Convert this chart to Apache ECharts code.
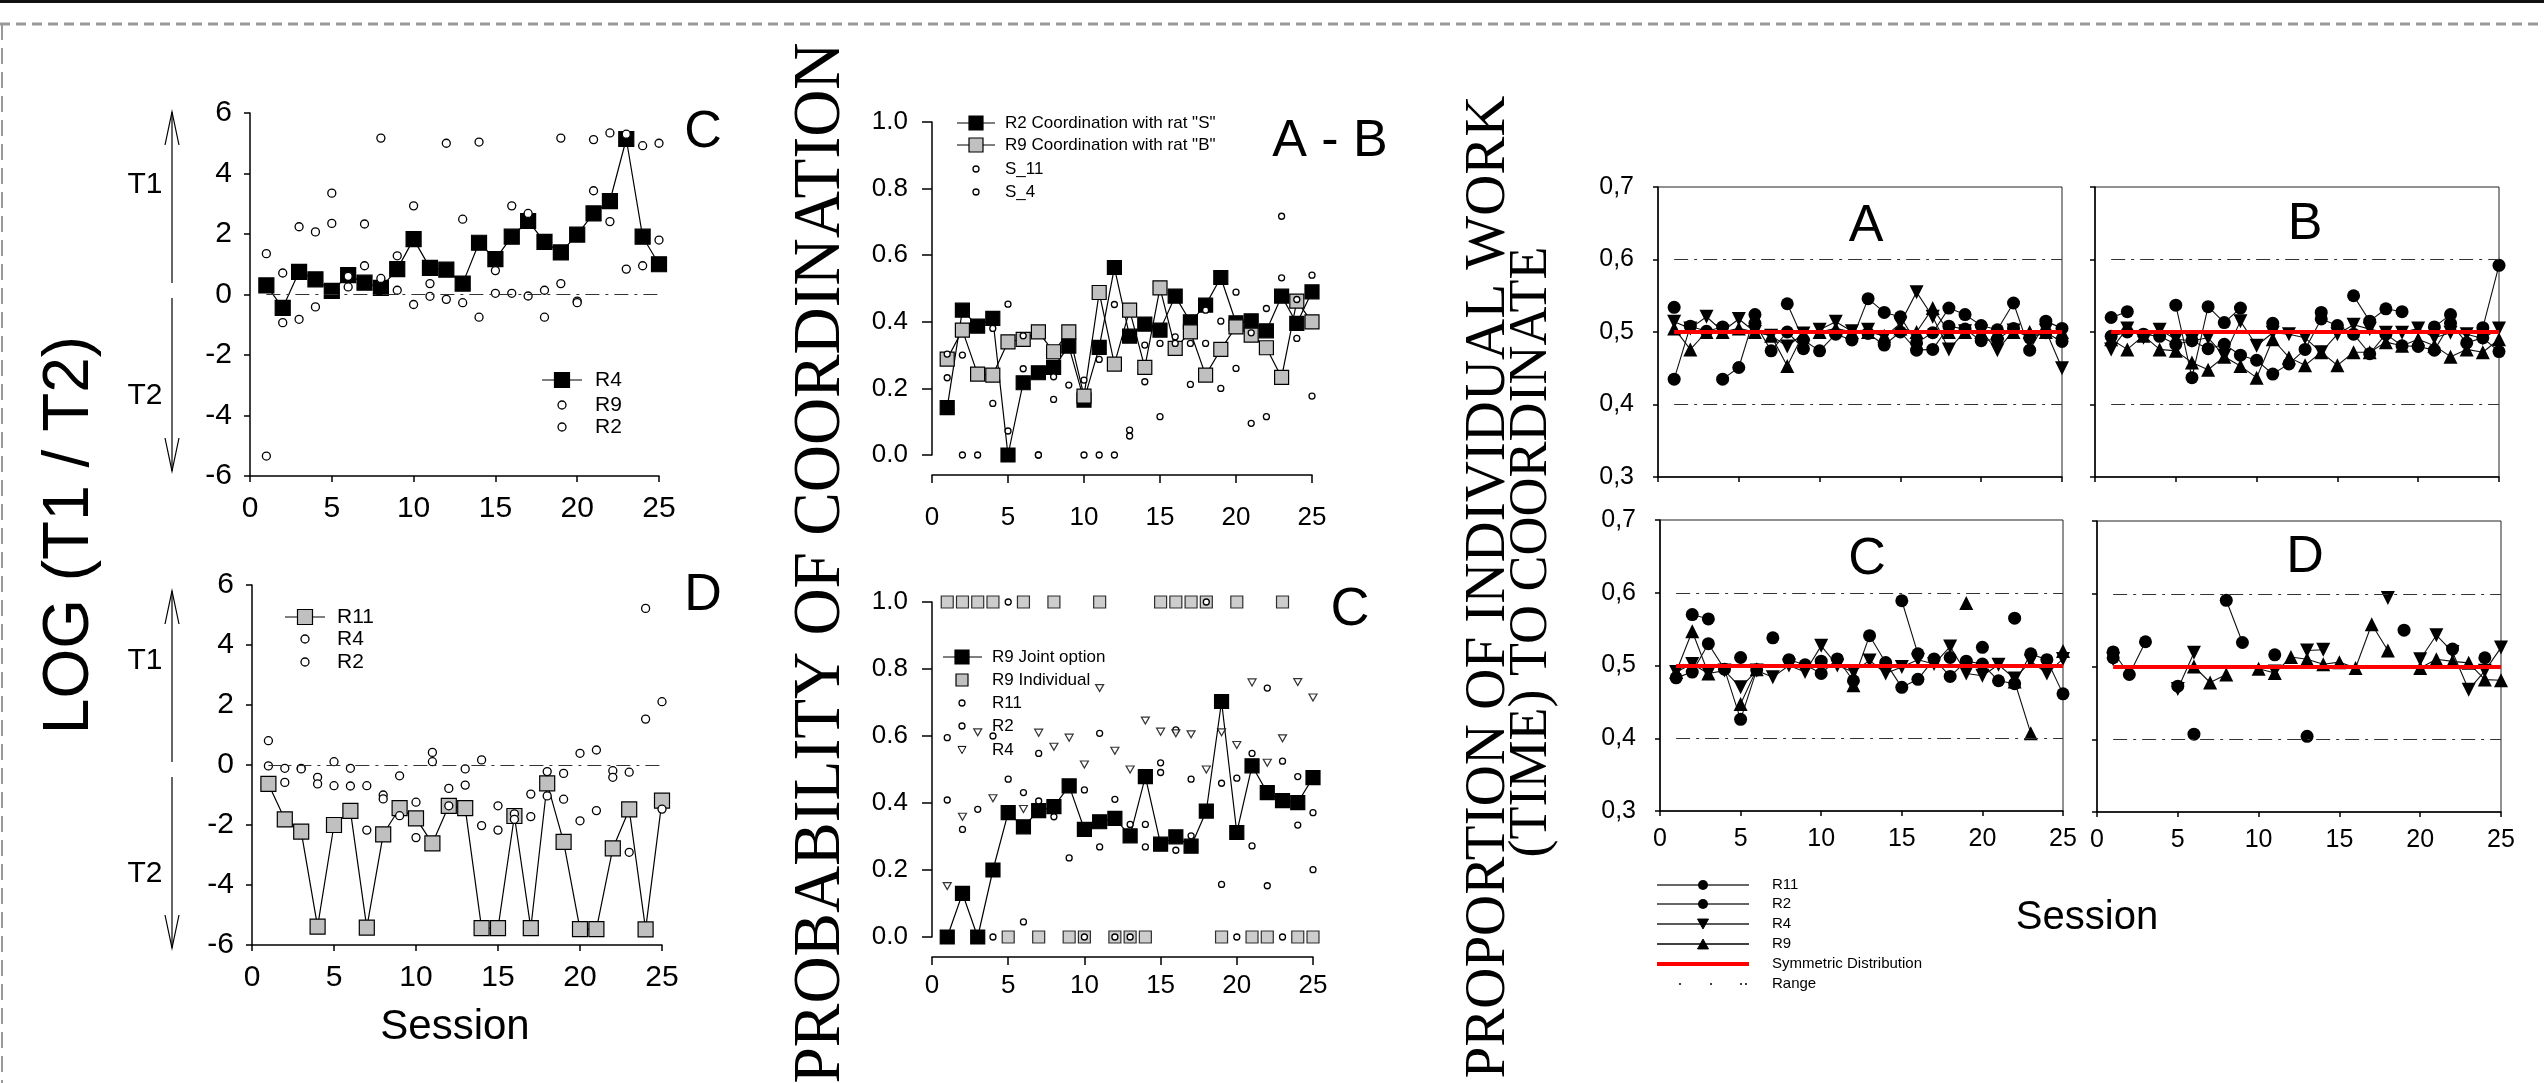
<!DOCTYPE html>
<html><head><meta charset="utf-8">
<script src="https://cdn.jsdelivr.net/npm/echarts@6/dist/echarts.min.js"></script>
<style>html,body{margin:0;padding:0;background:#fff}#c{width:2544px;height:1083px}</style>
</head><body><div id="c"></div>
<script>
var sessions = [1,2,3,4,5,6,7,8,9,10,11,12,13,14,15,16,17,18,19,20,21,22,23,24,25];
// Left top panel "C"
var c_R4 = [0.30,-0.44,0.75,0.50,0.12,0.64,0.39,0.22,0.84,1.83,0.88,0.82,0.36,1.71,1.17,1.91,2.43,1.74,1.39,1.98,2.68,3.09,5.14,1.91,1.00];
var c_R9 = [1.35,0.71,2.24,2.07,3.35,0.25,2.33,5.17,1.28,2.93,0.36,5.0,2.49,5.04,0.79,2.93,2.68,0.14,5.17,-0.22,5.12,5.34,5.3,4.92,5.0];
var c_R2 = [-5.34,-0.93,-0.82,-0.41,2.35,0.6,0.95,0.53,0.14,-0.33,-0.06,-0.16,-0.27,-0.75,0.04,0.04,-0.05,-0.75,0.36,-0.27,3.43,2.41,0.84,0.95,1.8];
// Left bottom panel "D"
var d_R11 = [-0.63,-1.81,-2.22,-5.39,-2.0,-1.53,-5.42,-2.31,-1.44,-1.78,-2.61,-1.36,-1.44,-5.44,-5.44,-1.7,-5.44,-0.61,-2.56,-5.47,-5.47,-2.78,-1.48,-5.48,-1.19];
var d_R4 = [0.81,-0.11,-0.11,-0.41,0.11,-0.11,-0.69,-1.0,-0.36,-1.24,0.42,-0.78,-0.13,0.17,-1.36,-1.63,-0.97,-0.22,-0.28,0.39,0.5,-0.19,-0.24,5.22,2.11];
var d_R2 = [-0.03,-0.58,-0.13,-0.63,-0.69,-0.7,-2.17,-1.13,-1.69,-2.42,0.11,-1.36,-0.67,-2.02,-2.17,-1.81,-1.72,-1.03,-1.14,-1.86,-1.52,-0.41,-2.91,1.53,-1.47];
// Middle top panel "A - B"
var ab_R2 = [0.142,0.435,0.387,0.41,0.0,0.217,0.247,0.263,0.327,0.165,0.323,0.563,0.357,0.393,0.375,0.477,0.4,0.45,0.533,0.397,0.403,0.373,0.477,0.395,0.49];
var ab_R9 = [0.288,0.375,0.243,0.24,0.34,0.347,0.37,0.31,0.37,0.177,0.488,0.273,0.435,0.263,0.502,0.32,0.37,0.24,0.317,0.385,0.36,0.322,0.233,0.462,0.4];
var ab_S11 = [0.303,0.3,0.0,0.38,0.453,0.358,0.0,0.235,0.21,0.225,0.287,0.452,0.075,0.33,0.335,0.355,0.335,0.435,0.402,0.489,0.367,0.44,0.717,0.467,0.54];
var ab_S4 = [0.232,0.0,null,0.155,0.072,0.259,0.0,0.167,null,0.0,0.0,0.0,0.057,0.22,0.115,0.335,0.212,0.335,0.2,0.26,0.095,0.115,0.532,0.35,0.177];
// Middle bottom panel "C"
var cm_Joint = [0,0.13,0,0.2,0.371,0.329,0.377,0.389,0.451,0.321,0.344,0.354,0.302,0.479,0.277,0.299,0.271,0.376,0.703,0.312,0.511,0.431,0.407,0.401,0.476];
var cm_Indiv = [1,1,1,1,0,1,0,1,0,0,1,0,0,0,1,1,1,1,0,1,0,0,1,0,0];
var cm_R11 = [0.595,0.321,0.381,0.6,0.471,0.431,0.548,0.359,0.236,0.439,0.608,0.411,0.336,0.336,0.52,0.618,0.471,1.0,0.459,0.474,0.548,0.743,0.525,0.479,0.371];
var cm_R2 = [0.409,null,null,0.0,1.0,0.045,0.406,null,null,0.0,0.269,0.0,0.0,0.269,0.491,0.259,0.302,null,0.157,0.0,0.272,0.153,0.0,0.334,0.201];
var cm_R4 = [0.152,0.359,0.611,0.414,null,0.382,0.61,0.568,0.595,0.515,0.743,0.556,0.5,0.646,0.613,0.608,0.605,0.5,0.611,0.573,0.76,0.52,0.593,0.761,0.715];
// Right panels A-D
var pA_R11 = [0.534,null,null,0.435,0.451,0.524,null,0.539,0.489,0.474,0.497,0.489,0.546,0.527,0.521,0.485,0.499,0.533,0.524,0.509,0.503,0.54,0.475,0.515,0.505];
var pA_R2 = [0.435,0.508,0.501,0.507,null,0.512,0.474,0.5,0.477,null,null,null,0.498,0.482,0.5,0.475,0.476,0.508,0.504,0.488,0.49,0.505,0.492,0.499,0.487];
var pA_R4 = [0.514,0.505,0.521,0.501,0.518,0.5,0.495,0.48,0.498,0.503,0.514,0.501,0.503,0.493,0.512,0.555,0.521,0.476,0.501,0.501,0.475,0.502,0.493,0.502,0.45];
var pA_R9 = [0.505,0.476,0.5,0.5,0.505,0.5,0.495,0.453,0.498,0.5,0.505,0.5,0.5,0.495,0.505,0.5,0.533,0.5,0.5,0.5,0.5,0.5,0.5,0.5,0.5];
var pB_R11 = [0.52,0.528,null,null,0.537,0.437,0.535,0.513,0.533,null,0.512,null,null,0.527,null,0.55,0.515,0.532,0.528,null,0.507,0.524,null,0.506,0.592];
var pB_R2 = [0.494,0.5,0.497,0.494,0.483,0.488,0.477,0.483,0.468,0.461,0.442,0.456,0.476,0.518,0.509,0.497,0.47,0.497,0.481,0.48,0.475,0.512,0.485,0.492,0.473];
var pB_R4 = [0.476,0.505,0.492,0.503,0.49,0.488,0.492,0.467,0.515,0.481,0.499,0.497,0.492,0.472,0.497,0.51,0.504,0.499,0.499,0.505,0.492,0.499,0.497,0.491,0.505];
var pB_R9 = [0.49,0.476,0.495,0.476,0.474,0.458,0.448,0.466,0.453,0.437,0.49,0.465,0.454,0.472,0.454,0.472,0.472,0.486,0.481,0.49,0.481,0.466,0.476,0.472,0.49];
var pC_R11 = [null,0.57,0.564,null,0.511,null,0.538,null,null,0.506,null,null,null,null,0.589,0.516,null,0.511,null,0.525,null,0.565,null,null,null];
var pC_R2 = [0.483,0.491,0.53,0.495,0.426,0.494,null,0.508,0.501,0.489,0.509,0.479,0.541,0.504,0.47,0.481,0.509,0.485,0.506,0.502,0.479,0.475,0.516,0.508,0.461];
var pC_R4 = [0.491,0.502,0.489,0.493,0.47,0.493,0.484,0.5,0.491,0.527,0.5,0.491,0.507,0.489,0.498,0.508,0.502,0.526,0.489,0.486,0.501,0.482,0.506,0.489,0.509];
var pC_R9 = [0.491,0.547,0.489,null,0.447,0.495,null,null,null,null,null,0.473,null,null,null,null,null,null,0.586,null,null,0.478,0.407,null,0.52];
var pD_R11 = [0.52,0.489,0.534,null,0.473,null,null,0.591,0.533,null,null,null,null,null,null,null,null,null,null,null,null,null,null,null,null];
var pD_R2 = [0.512,null,null,null,null,0.407,null,null,null,null,0.516,null,0.404,null,null,null,null,null,0.55,null,null,0.524,null,0.512,null];
var pD_R4 = [0.51,null,null,null,0.469,0.519,null,null,null,null,0.493,null,0.522,0.523,null,null,null,0.594,null,0.51,0.543,0.52,0.468,0.494,0.526];
var pD_R9 = [null,null,null,null,null,0.5,0.478,0.489,null,0.497,0.491,0.513,0.51,0.503,0.506,0.498,0.558,0.522,null,0.498,0.51,0.507,0.505,0.482,0.481];
var rightRange = [0.4,0.6];
var symmetric = 0.5;

var FF = 'Liberation Sans';
function pts(arr){ return sessions.map(function(s,i){ return [s, (arr[i]===null||arr[i]===undefined)?'-':arr[i]]; }); }

var grids = [
  {left:250, top:113, width:409, height:363},
  {left:252, top:585, width:410, height:360},
  {left:932, top:122, width:380, height:333},
  {left:932, top:602, width:381, height:335},
  {left:1658, top:187, width:404, height:290, show:true, borderColor:'#222', borderWidth:1},
  {left:2095, top:187, width:404, height:290, show:true, borderColor:'#222', borderWidth:1},
  {left:1660, top:520, width:403, height:291, show:true, borderColor:'#222', borderWidth:1},
  {left:2097, top:521, width:404, height:291, show:true, borderColor:'#222', borderWidth:1}
];
function xAx(gi, fs, tickLen, margin, showLabel, offset){
  return {type:'value', gridIndex:gi, min:0, max:25, interval:5, offset:offset||0,
    axisLine:{show:true, onZero:false, lineStyle:{color:'#000', width:1.5}},
    axisTick:{show:true, length:tickLen, lineStyle:{color:'#000', width:1.5}},
    axisLabel:{show:showLabel, color:'#000', fontSize:fs, fontFamily:FF, margin:margin},
    splitLine:{show:false}};
}
function yAx(gi, min, max, itv, fs, tickLen, margin, showLabel, fmt){
  return {type:'value', gridIndex:gi, min:min, max:max, interval:itv,
    axisLine:{show:true, onZero:false, lineStyle:{color:'#000', width:1.5}},
    axisTick:{show:true, length:tickLen, lineStyle:{color:'#000', width:1.5}},
    axisLabel:{show:showLabel, color:'#000', fontSize:fs, fontFamily:FF, margin:margin, formatter:fmt},
    splitLine:{show:false}};
}
var fmt1 = function(v){ return v.toFixed(1); };
var fmtC = function(v){ return v.toFixed(1).replace('.', ','); };
var fmt0 = function(v){ return String(Math.round(v)); };

var xAxes = [
  xAx(0,30,6,18,true), xAx(1,30,6,18,true),
  xAx(2,26,8,30,true,20), xAx(3,26,8,16,true,20),
  xAx(4,25,5,16,false), xAx(5,25,5,16,false), xAx(6,25,5,16,true), xAx(7,25,5,16,true)
];
var yAxes = [
  yAx(0,-6,6,2,30,6,18,true,fmt0), yAx(1,-6,6,2,30,6,18,true,fmt0),
  yAx(2,0,1,0.2,26,10,24,true,fmt1), yAx(3,0,1,0.2,26,10,24,true,fmt1),
  yAx(4,0.3,0.7,0.1,25,5,24,true,fmtC), yAx(5,0.3,0.7,0.1,25,5,24,false,fmtC),
  yAx(6,0.3,0.7,0.1,25,5,24,true,fmtC), yAx(7,0.3,0.7,0.1,25,5,24,false,fmtC)
];

var dashDot = [14,6,3,6];
function sqLine(gi, arr, fill, size, z){
  return {type:'line', xAxisIndex:gi, yAxisIndex:gi, data:pts(arr), symbol:'rect', symbolSize:size,
    showSymbol:true, connectNulls:false, z:z||3,
    lineStyle:{color:'#000', width:1.2}, itemStyle:{color:fill, borderColor:'#000', borderWidth:1.2}};
}
function circ(gi, arr, size, z){
  return {type:'scatter', xAxisIndex:gi, yAxisIndex:gi, data:pts(arr), symbol:'circle', symbolSize:size, z:z||4,
    itemStyle:{color:'#fff', borderColor:'#000', borderWidth:1.3, opacity:1}};
}
function zeroLine(gi, yv){
  return {type:'line', xAxisIndex:gi, yAxisIndex:gi, data:[], z:1,
    markLine:{silent:true, symbol:['none','none'], label:{show:false},
      lineStyle:{color:'#333', width:1.2, type:dashDot},
      data:[[{coord:[1,yv]},{coord:[25,yv]}]]}};
}
function rightLines(gi){
  return [
    {type:'line', xAxisIndex:gi, yAxisIndex:gi, data:[], z:1,
      markLine:{silent:true, symbol:['none','none'], label:{show:false}, animation:false,
        lineStyle:{color:'#333', width:1.2, type:dashDot},
        data:[[{coord:[1,rightRange[0]]},{coord:[25,rightRange[0]]}],[{coord:[1,rightRange[1]]},{coord:[25,rightRange[1]]}]]}},
    {type:'line', xAxisIndex:gi, yAxisIndex:gi, data:[], z:10,
      markLine:{silent:true, symbol:['none','none'], label:{show:false},
        lineStyle:{color:'#ff0000', width:4, type:'solid'},
        data:[[{coord:[1,symmetric]},{coord:[25,symmetric]}]]}}
  ];
}
function rSeries(gi, arr, sym, rot){
  return {type:'line', xAxisIndex:gi, yAxisIndex:gi, data:pts(arr), symbol:sym, symbolSize: sym==='circle'?13:14,
    symbolRotate:rot||0, showSymbol:true, connectNulls:false, z:3,
    lineStyle:{color:'#111', width:1.1}, itemStyle:{color:'#000', borderColor:'#000', borderWidth:0}};
}

var series = [];
series.push(zeroLine(0,0));
series.push(sqLine(0, c_R4, '#000', 15));
series.push(circ(0, c_R9, 8));
series.push(circ(0, c_R2, 8));
series.push(zeroLine(1,0));
series.push(sqLine(1, d_R11, '#c0c0c0', 15));
series.push(circ(1, d_R4, 8));
series.push(circ(1, d_R2, 8));
series.push(sqLine(2, ab_R2, '#000', 14));
series.push(sqLine(2, ab_R9, '#c0c0c0', 14));
series.push(circ(2, ab_S11, 6));
series.push(circ(2, ab_S4, 6));
series.push({type:'scatter', xAxisIndex:3, yAxisIndex:3, data:pts(cm_Indiv), symbol:'rect', symbolSize:12, z:2,
  itemStyle:{color:'#c0c0c0', borderColor:'#000', borderWidth:1.2}});
series.push(sqLine(3, cm_Joint, '#000', 14));
series.push(circ(3, cm_R11, 6, 5));
series.push(circ(3, cm_R2, 6, 5));
series.push({type:'scatter', xAxisIndex:3, yAxisIndex:3, data:pts(cm_R4), symbol:'triangle', symbolRotate:180, symbolSize:[8,7], z:5,
  itemStyle:{color:'#fff', borderColor:'#000', borderWidth:1.2}});
var rp = [[4,pA_R11,pA_R2,pA_R4,pA_R9],[5,pB_R11,pB_R2,pB_R4,pB_R9],[6,pC_R11,pC_R2,pC_R4,pC_R9],[7,pD_R11,pD_R2,pD_R4,pD_R9]];
rp.forEach(function(p){
  rightLines(p[0]).forEach(function(s){ series.push(s); });
  series.push(rSeries(p[0], p[1], 'circle'));
  series.push(rSeries(p[0], p[2], 'circle'));
  series.push(rSeries(p[0], p[3], 'triangle', 180));
  series.push(rSeries(p[0], p[4], 'triangle'));
});

var G = [];
function txt(x,y,t,fs,opt){
  opt = opt||{};
  var e = {type:'text', x:x, y:y, z:100, rotation:opt.rot||0, scaleX:opt.sx||1, scaleY:opt.sy||1,
    style:{text:t, fontSize:fs, fontFamily:opt.ff||FF, fill:'#000',
      align:opt.align||'left', verticalAlign:'middle', textAlign:opt.align||'left', textVerticalAlign:'middle'}};
  G.push(e);
}
function ln(x1,y1,x2,y2,opt){
  opt=opt||{};
  G.push({type:'line', z:100, shape:{x1:x1,y1:y1,x2:x2,y2:y2}, style:{stroke:opt.c||'#000', lineWidth:opt.w||1.2, lineDash:opt.dash||null}});
}
function pl(points,opt){
  opt=opt||{};
  G.push({type:'polyline', z:100, shape:{points:points}, style:{stroke:opt.c||'#000', lineWidth:opt.w||1.2, fill:null}});
}
function sq(cx,cy,s,fill){ G.push({type:'rect', z:101, shape:{x:cx-s/2,y:cy-s/2,width:s,height:s}, style:{fill:fill, stroke:'#000', lineWidth:1.2}}); }
function ci(cx,cy,r,fill){ G.push({type:'circle', z:101, shape:{cx:cx,cy:cy,r:r}, style:{fill:fill||'#fff', stroke:'#000', lineWidth:1.3}}); }
function tri(cx,cy,s,down,fill){
  var h=s*0.9;
  var pts_ = down ? [[cx-s/2,cy-h/2],[cx+s/2,cy-h/2],[cx,cy+h/2]] : [[cx-s/2,cy+h/2],[cx+s/2,cy+h/2],[cx,cy-h/2]];
  G.push({type:'polygon', z:101, shape:{points:pts_}, style:{fill:fill||'#000', stroke:'#000', lineWidth:1}});
}

// page frame
ln(0,1.5,2544,1.5,{w:3,c:'#111'});
ln(0,24,2544,24,{w:3,c:'#999',dash:[10,6]});
ln(2,24,2,1083,{w:2,c:'#999',dash:[16,8]});

// left
txt(70,535,'LOG (T1 / T2)',64,{rot:Math.PI/2, align:'center'});
[[112,283,298,471,185,396],[591,762,777,948,661,874]].forEach(function(a){
  ln(172,a[0],172,a[1]); pl([[165,a[0]+33],[172,a[0]],[179,a[0]+33]]);
  ln(172,a[2],172,a[3]); pl([[165,a[3]-33],[172,a[3]],[179,a[3]-33]]);
  txt(145,a[4],'T1',30,{align:'center'}); txt(145,a[5],'T2',30,{align:'center'});
});
txt(703,133,'C',52,{align:'center'});
txt(703,596,'D',52,{align:'center'});
txt(455,1027,'Session',42,{align:'center'});
ln(542,380,582,380); sq(562,380,15,'#000'); txt(595,380,'R4',21);
ci(562,405,4); txt(595,405,'R9',21);
ci(562,427,4); txt(595,427,'R2',21);
ln(285,617,325,617); sq(305,617,15,'#c0c0c0'); txt(337,617,'R11',21);
ci(305,639,4); txt(337,639,'R4',21);
ci(305,662,4); txt(337,662,'R2',21);

// middle
txt(821,563,'PROBABILITY OF COORDINATION',68,{rot:Math.PI/2, align:'center', ff:'Liberation Serif', sx:0.96});
txt(1330,142,'A - B',52,{align:'center'});
txt(1350,610,'C',54,{align:'center'});
ln(957,123,995,123); sq(976,123,14,'#000'); txt(1005,123,'R2 Coordination with rat "S"',17);
ln(957,145,995,145); sq(976,145,14,'#c0c0c0'); txt(1005,145,'R9 Coordination with rat "B"',17);
ci(976,169,3); txt(1005,169,'S_11',17);
ci(976,192,3); txt(1005,192,'S_4',17);
ln(943,657,982,657); sq(962,657,14,'#000'); txt(992,657,'R9 Joint option',17);
sq(962,680,12,'#c0c0c0'); txt(992,680,'R9 Individual',17);
ci(962,703,3); txt(992,703,'R11',17);
ci(962,726,3); txt(992,726,'R2',17);
tri(962,750,8,true,'#fff'); txt(992,750,'R4',17);

// right
txt(1489,587,'PROPORTION OF INDIVIDUAL WORK',57,{rot:Math.PI/2, align:'center', ff:'Liberation Serif'});
txt(1532,552,'(TIME) TO COORDINATE',54,{rot:Math.PI/2, align:'center', ff:'Liberation Serif'});
txt(1866,227,'A',52,{align:'center'});
txt(2305,225,'B',52,{align:'center'});
txt(1867,560,'C',52,{align:'center'});
txt(2305,558,'D',52,{align:'center'});
txt(2087,918,'Session',40,{align:'center'});
ln(1657,885,1749,885,{c:'#666',w:2}); G.push({type:'circle',z:101,shape:{cx:1703,cy:885,r:5},style:{fill:'#000'}}); txt(1772,885,'R11',15);
ln(1657,904,1749,904,{c:'#666',w:2}); G.push({type:'circle',z:101,shape:{cx:1703,cy:904,r:5},style:{fill:'#000'}}); txt(1772,904,'R2',15);
ln(1657,924,1749,924,{c:'#222',w:1.5}); tri(1703,924,11,true); txt(1772,924,'R4',15);
ln(1657,944,1749,944,{c:'#000',w:1.5}); tri(1703,944,11,false); txt(1772,944,'R9',15);
ln(1657,964,1749,964,{c:'#ff0000',w:4}); txt(1772,964,'Symmetric Distribution',15);
[1680,1711,1741,1746].forEach(function(x){ G.push({type:'circle',z:101,shape:{cx:x,cy:984,r:1},style:{fill:'#000'}}); });
txt(1772,984,'Range',15);

var chart = echarts.init(document.getElementById('c'), null, {renderer:'canvas'});
chart.setOption({
  animation:false, backgroundColor:'#fff',
  textStyle:{fontFamily:FF},
  grid:grids, xAxis:xAxes, yAxis:yAxes, series:series,
  graphic:{elements:G}
});
</script></body></html>
